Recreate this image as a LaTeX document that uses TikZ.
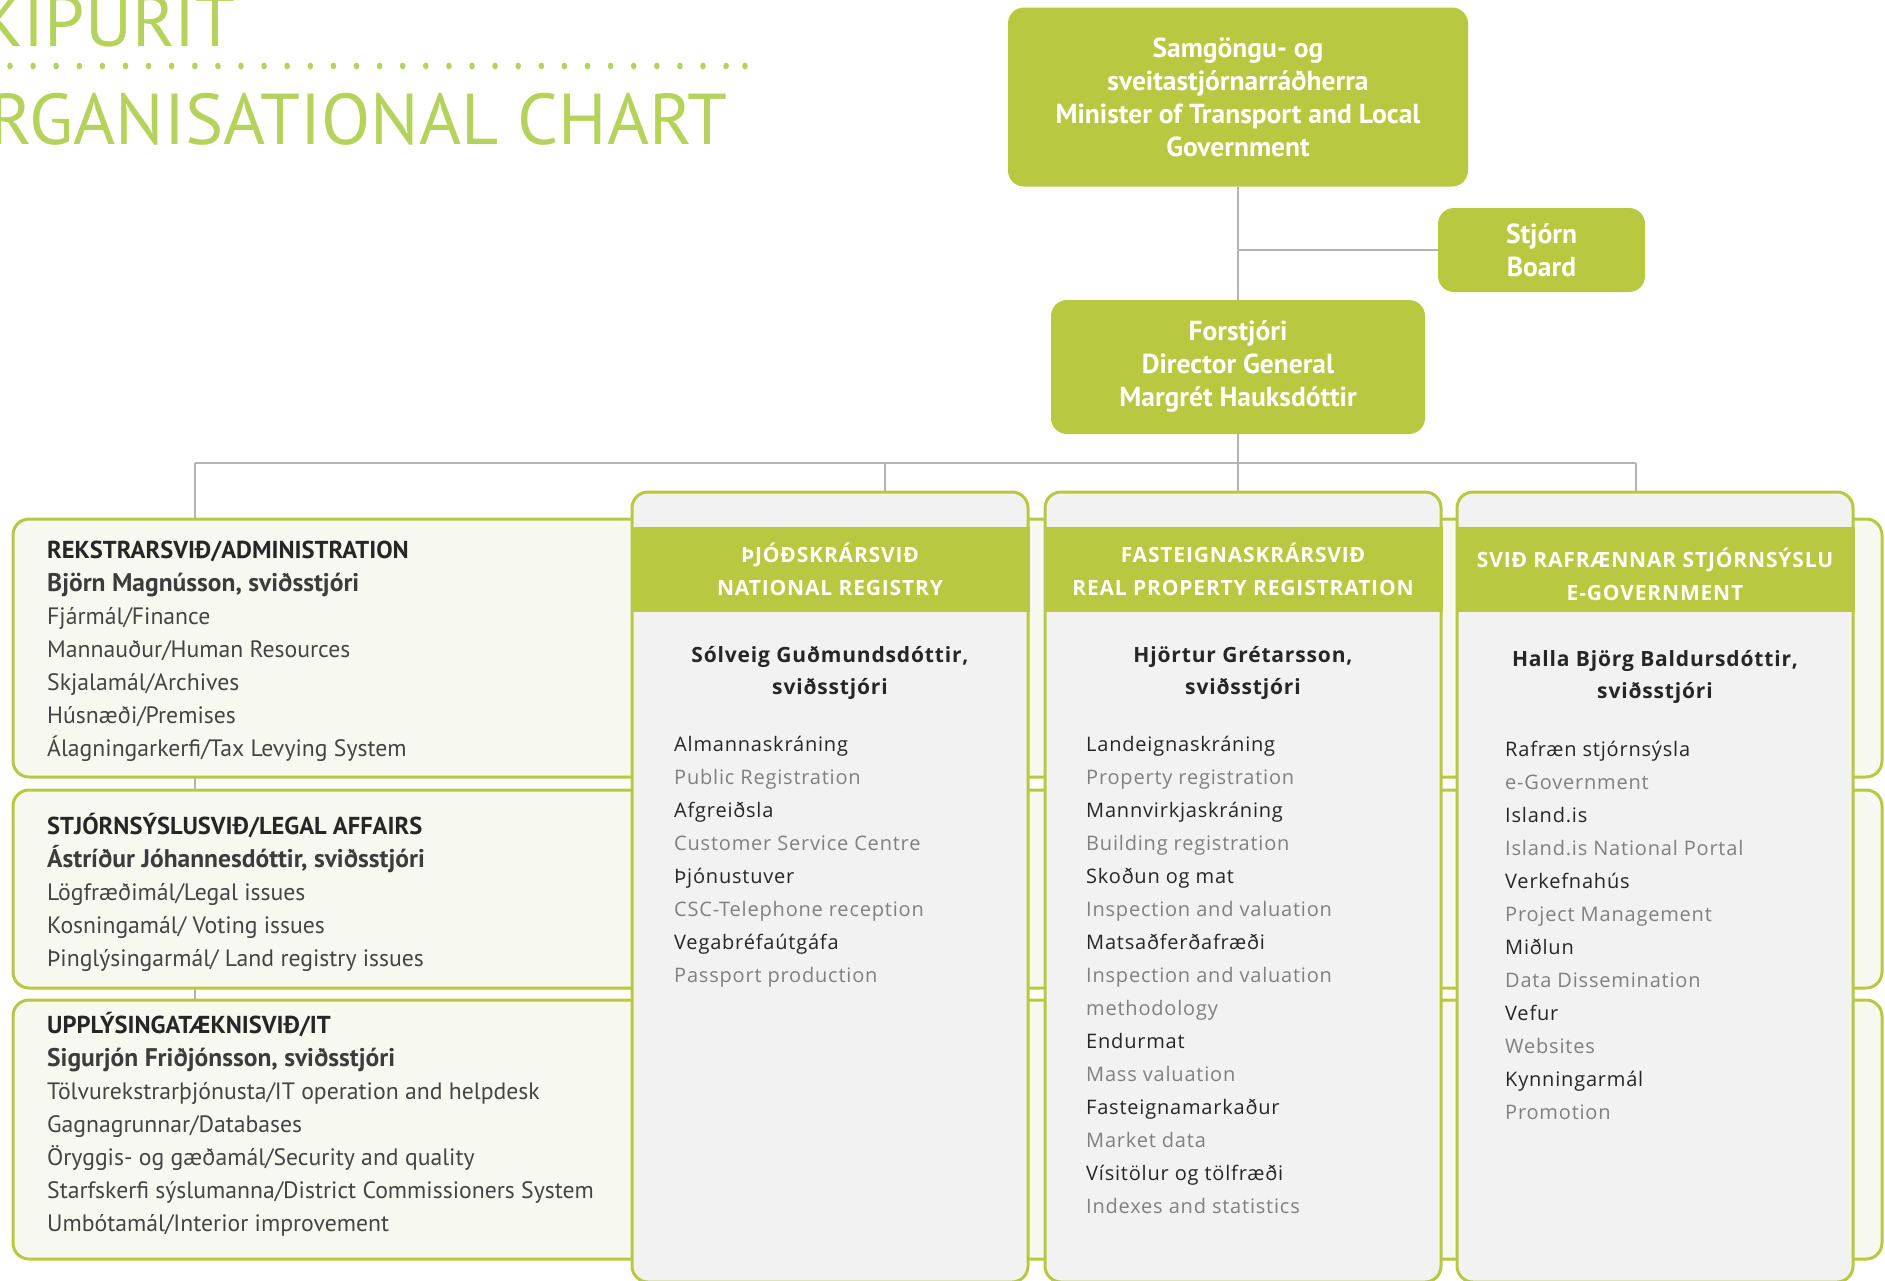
\documentclass[tikz,border=0pt]{standalone}
\usepackage{fontspec}
\setmainfont{PT Sans}
\newfontfamily\colfont[LetterSpace=4]{Open Sans}
\usepackage{xcolor}
\usetikzlibrary{positioning,calc}

\definecolor{orggreen}{RGB}{184,201,65}
\definecolor{titlegreen}{RGB}{181,211,92}
\definecolor{unitbg}{RGB}{247,249,241}
\definecolor{colbg}{RGB}{242,242,242}
\definecolor{linkgrey}{RGB}{180,180,180}
\definecolor{textdark}{RGB}{38,38,38}
\definecolor{textmid}{RGB}{68,68,68}
\definecolor{textsoft}{RGB}{128,128,128}

\pgfdeclarelayer{background}
\pgfsetlayers{background,main}

\begin{document}
\begin{tikzpicture}[x=1pt,y=-1pt,
    topbox/.style={fill=orggreen, rounded corners=16pt, text=white, align=center, inner sep=0pt,
        font=\bfseries\fontsize{27.5}{33}\selectfont},
    unitbox/.style={draw=orggreen, line width=3pt, fill=unitbg, rounded corners=16pt, inner sep=0pt,
        minimum width=1869pt},
    unithead/.style={anchor=base west, inner sep=0pt, text=textdark, font=\bfseries\fontsize{24.5}{33}\selectfont},
    unitchief/.style={anchor=base west, inner sep=0pt, text=textdark!90!white, font=\bfseries\fontsize{25.5}{33}\selectfont},
    unititem/.style={anchor=base west, inner sep=0pt, text=textmid, font=\fontsize{23.7}{33}\selectfont},
    colbox/.style={draw=orggreen, line width=3pt, fill=colbg, rounded corners=16pt, inner sep=0pt,
        minimum width=396pt, minimum height=790pt},
    band/.style={fill=orggreen, inner sep=0pt, minimum width=399pt, minimum height=85pt, text=white,
        align=center, font=\colfont\bfseries\fontsize{21}{33}\selectfont},
    colname/.style={align=center, inner sep=0pt, text=textdark, font=\colfont\bfseries\fontsize{21}{32}\selectfont},
    colitem/.style={anchor=base west, inner sep=0pt, font=\colfont\fontsize{20}{24}\selectfont},
    link/.style={draw=linkgrey, line width=2pt}]

    \useasboundingbox (0,0) rectangle (1885,1280);

    % title
    \node[anchor=base east, inner sep=0pt, text=titlegreen, font=\fontsize{72}{80}\selectfont] (title-is) at (236,46) {SKIPURIT};
    \node[anchor=base east, inner sep=0pt, text=titlegreen, font=\fontsize{72}{80}\selectfont] (title-en) at (728,144) {ORGANISATIONAL CHART};
    \foreach \k in {0,...,31}
        \fill[titlegreen] (10+23.1*\k,66) ellipse (2.8 and 3.4);
    \fill[titlegreen] (745,66) ellipse (2.8 and 3.4);

    % top of the chart
    \node[topbox, minimum width=460pt, minimum height=179pt] (minister) at (1238,97)
        {Samgöngu- og\\sveitastjórnarráðherra\\Minister of Transport and Local\\Government};
    \node[topbox, minimum width=207pt, minimum height=84pt] (board) at (1541.5,250) {Stjórn\\Board};
    \node[topbox, minimum width=374pt, minimum height=134pt] (director) at (1238,367)
        {Forstjóri\\Director General\\Margrét Hauksdóttir};

    % support units
    \node[unitbox, minimum height=258pt] (admin) at (947.5,648) {};
    \node[unitbox, minimum height=198pt] (legal) at (947.5,889) {};
    \node[unitbox, minimum height=259pt] (itunit) at (947.5,1129.5) {};

    \node[unithead] (admin-head) at (47,558) {REKSTRARSVIÐ/ADMINISTRATION};
    \node[unitchief] (admin-chief) at (47,591) {Björn Magnússon, sviðsstjóri};
    \foreach \txt [count=\i from 0] in {Fjármál/Finance, Mannauður/Human Resources, Skjalamál/Archives,
        Húsnæði/Premises, Álagningarkerfi/Tax Levying System}
        \node[unititem] (admin-\i) at (47,624+33*\i) {\txt};

    \node[unithead] (legal-head) at (47,834) {STJÓRNSÝSLUSVIÐ/LEGAL AFFAIRS};
    \node[unitchief] (legal-chief) at (47,867) {Ástríður Jóhannesdóttir, sviðsstjóri};
    \foreach \txt [count=\i from 0] in {Lögfræðimál/Legal issues, Kosningamál/ Voting issues,
        Þinglýsingarmál/ Land registry issues}
        \node[unititem] (legal-\i) at (47,900+33*\i) {\txt};

    \node[unithead] (it-head) at (47,1033) {UPPLÝSINGATÆKNISVIÐ/IT};
    \node[unitchief] (it-chief) at (47,1066) {Sigurjón Friðjónsson, sviðsstjóri};
    \foreach \txt [count=\i from 0] in {Tölvurekstrarþjónusta/IT operation and helpdesk, Gagnagrunnar/Databases,
        Öryggis- og gæðamál/Security and quality, Starfskerfi sýslumanna/District Commissioners System,
        Umbótamál/Interior improvement}
        \node[unititem] (it-\i) at (47,1099+33*\i) {\txt};

    % divisions
    \node[colbox] (natreg) at (830,887) {};
    \node[colbox] (propreg) at (1243,887) {};
    \node[colbox] (egov) at (1655,887) {};

    \node[band] (natreg-band) at (830,569.5) {ÞJÓÐSKRÁRSVIÐ\\NATIONAL REGISTRY};
    \node[band] (propreg-band) at (1243,569.5) {FASTEIGNASKRÁRSVIÐ\\REAL PROPERTY REGISTRATION};
    \node[band] (egov-band) at (1655,569.5) {};
    \node[align=center, inner sep=0pt, text=white, font=\colfont\bfseries\fontsize{21}{33}\selectfont]
        (egov-title) at (1655,574) {SVIÐ RAFRÆNNAR STJÓRNSÝSLU\\E-GOVERNMENT};

    \node[colname] (natreg-chief) at (830,673) {Sólveig Guðmundsdóttir,\\sviðsstjóri};
    \node[colname] (propreg-chief) at (1243,673) {Hjörtur Grétarsson,\\sviðsstjóri};
    \node[colname] (egov-chief) at (1655,677) {Halla Björg Baldursdóttir,\\sviðsstjóri};

    \foreach \txt/\col [count=\i from 0] in {Almannaskráning/textdark, Public Registration/textsoft,
        Afgreiðsla/textdark, Customer Service Centre/textsoft, Þjónustuver/textdark,
        CSC-Telephone reception/textsoft, Vegabréfaútgáfa/textdark, Passport production/textsoft}
        \node[colitem, text=\col] (natreg-\i) at (674,751+33*\i) {\txt};

    \foreach \txt/\col [count=\i from 0] in {Landeignaskráning/textdark, Property registration/textsoft,
        Mannvirkjaskráning/textdark, Building registration/textsoft, Skoðun og mat/textdark,
        Inspection and valuation/textsoft, Matsaðferðafræði/textdark, Inspection and valuation/textsoft,
        methodology/textsoft, Endurmat/textdark, Mass valuation/textsoft, Fasteignamarkaður/textdark,
        Market data/textsoft, Vísitölur og tölfræði/textdark, Indexes and statistics/textsoft}
        \node[colitem, text=\col] (propreg-\i) at (1086,751+33*\i) {\txt};

    \foreach \txt/\col [count=\i from 0] in {Rafræn stjórnsýsla/textdark, e-Government/textsoft,
        Island.is/textdark, Island.is National Portal/textsoft, Verkefnahús/textdark,
        Project Management/textsoft, Miðlun/textdark, Data Dissemination/textsoft,
        Vefur/textdark, Websites/textsoft, Kynningarmál/textdark, Promotion/textsoft}
        \node[colitem, text=\col] (egov-\i) at (1505,756+33*\i) {\txt};

    % connectors
    \begin{pgfonlayer}{background}
        \coordinate (busL) at (195,463);
        \coordinate (busR) at (1636,463);
        \coordinate (drop1) at (885,463);
        \draw[link] (minister.south) -- (director.north);
        \draw[link] (minister.south |- board.west) -- (board.west);
        \draw[link] (busL) -- (busR);
        \draw[link] (director.south) -- (director.south |- propreg.north);
        \draw[link] (busL) -- (busL |- itunit.north);
        \draw[link] (drop1) -- (drop1 |- natreg.north);
        \draw[link] (busR) -- (busR |- egov.north);
    \end{pgfonlayer}
\end{tikzpicture}
\end{document}
